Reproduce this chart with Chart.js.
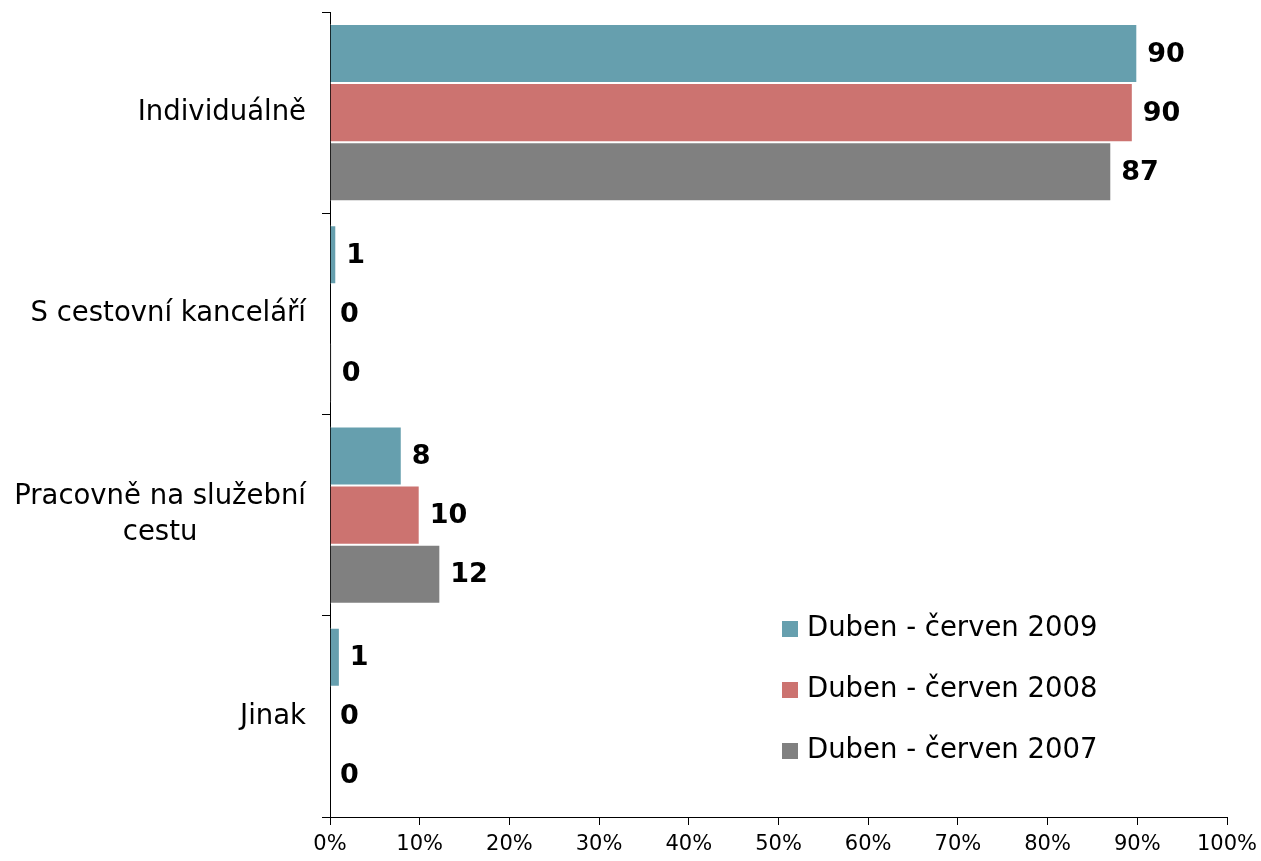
<!DOCTYPE html>
<html>
<head>
<meta charset="utf-8">
<script src="https://cdn.jsdelivr.net/npm/chart.js@4"></script>
<style>
  html, body { margin: 0; padding: 0; background: #fff; }
  #wrap { width: 1261px; height: 861px; }
</style>
</head>
<body>
<div id="wrap"><canvas id="chart"></canvas></div>
<script>
'use strict';

const categories = ['Individuálně', 'S cestovní kanceláří', ['Pracovně na služební', 'cestu'], 'Jinak'];
const seriesNames = ['Duben - červen 2009', 'Duben - červen 2008', 'Duben - červen 2007'];
const values2009 = [90, 0.7, 8, 1.1];
const values2008 = [89.5, 0, 10, 0];
const values2007 = [87.1, 0.2, 12.3, 0];
const xTickValues = [0, 10, 20, 30, 40, 50, 60, 70, 80, 90, 100];
const colors = ['#669FAE', '#CC7370', '#808080'];

const FONT = 'Verdana, "DejaVu Sans", sans-serif';

// value labels at the end of each bar
const valueLabels = {
  id: 'valueLabels',
  afterDatasetsDraw(chart) {
    const ctx = chart.ctx;
    ctx.save();
    ctx.font = 'bold 27px ' + FONT;
    ctx.fillStyle = '#000';
    ctx.textAlign = 'left';
    ctx.textBaseline = 'middle';
    chart.data.datasets.forEach((ds, di) => {
      const meta = chart.getDatasetMeta(di);
      meta.data.forEach((bar, i) => {
        ctx.fillText(String(Math.round(ds.data[i])), bar.x + 10, bar.y + 1);
      });
    });
    ctx.restore();
  }
};

// category labels: right-aligned blocks, multi-line ones centred inside the block
const categoryLabels = {
  id: 'categoryLabels',
  afterDraw(chart) {
    const ctx = chart.ctx;
    const y = chart.scales.y;
    ctx.save();
    ctx.font = '27.5px ' + FONT;
    ctx.fillStyle = '#000';
    ctx.textBaseline = 'middle';
    const lineH = 36;
    const right = y.right - 24;
    chart.data.labels.forEach((lab, i) => {
      const lines = Array.isArray(lab) ? lab : [lab];
      const cy = y.getPixelForValue(i);
      const w = Math.max(...lines.map(l => ctx.measureText(l).width));
      const cx = right - w / 2;
      ctx.textAlign = 'center';
      lines.forEach((l, k) => {
        ctx.fillText(l, cx, cy + (k - (lines.length - 1) / 2) * lineH);
      });
    });
    ctx.restore();
  }
};

// legend in the lower right corner of the plot
const insideLegend = {
  id: 'insideLegend',
  afterDraw(chart) {
    const ctx = chart.ctx;
    const a = chart.chartArea;
    ctx.save();
    ctx.font = '27.5px ' + FONT;
    ctx.textAlign = 'left';
    ctx.textBaseline = 'middle';
    chart.data.datasets.forEach((ds, i) => {
      const bx = a.left + 452;
      const by = a.top + 617 + i * 61;
      ctx.fillStyle = ds.backgroundColor;
      ctx.fillRect(bx, by - 8, 16, 16);
      ctx.fillStyle = '#000';
      ctx.fillText(ds.label, bx + 25, by);
    });
    ctx.restore();
  }
};

const datasets = [values2009, values2008, values2007].map((vals, i) => ({
  label: seriesNames[i],
  data: vals,
  backgroundColor: colors[i],
  borderColor: '#fff',
  borderWidth: 1,
  borderSkipped: 'start',
  categoryPercentage: 0.88,
  barPercentage: 1.0,
}));

new Chart(document.getElementById('chart'), {
  type: 'bar',
  data: { labels: categories, datasets },
  options: {
    indexAxis: 'y',
    responsive: true,
    maintainAspectRatio: false,
    animation: false,
    layout: { padding: { top: 12, right: 34, left: 0, bottom: 0 } },
    plugins: { legend: { display: false }, tooltip: { enabled: false } },
    scales: {
      x: {
        min: 0,
        max: 100,
        afterBuildTicks: scale => { scale.ticks = xTickValues.map(v => ({ value: v })); },
        afterFit: scale => { scale.height = 44; scale.paddingRight = 0; },
        ticks: {
          callback: v => v + '%',
          color: '#000',
          font: { family: FONT, size: 21 },
          padding: 7,
          maxRotation: 0,
        },
        grid: { drawOnChartArea: false, tickLength: 8, color: '#000' },
        border: { color: '#000' },
      },
      y: {
        afterFit: scale => { scale.width = 330; },
        ticks: { display: false },
        grid: { offset: true, drawOnChartArea: false, tickLength: 8, color: '#000' },
        border: { color: '#000' },
      },
    },
  },
  plugins: [valueLabels, categoryLabels, insideLegend],
});
</script>
</body>
</html>
